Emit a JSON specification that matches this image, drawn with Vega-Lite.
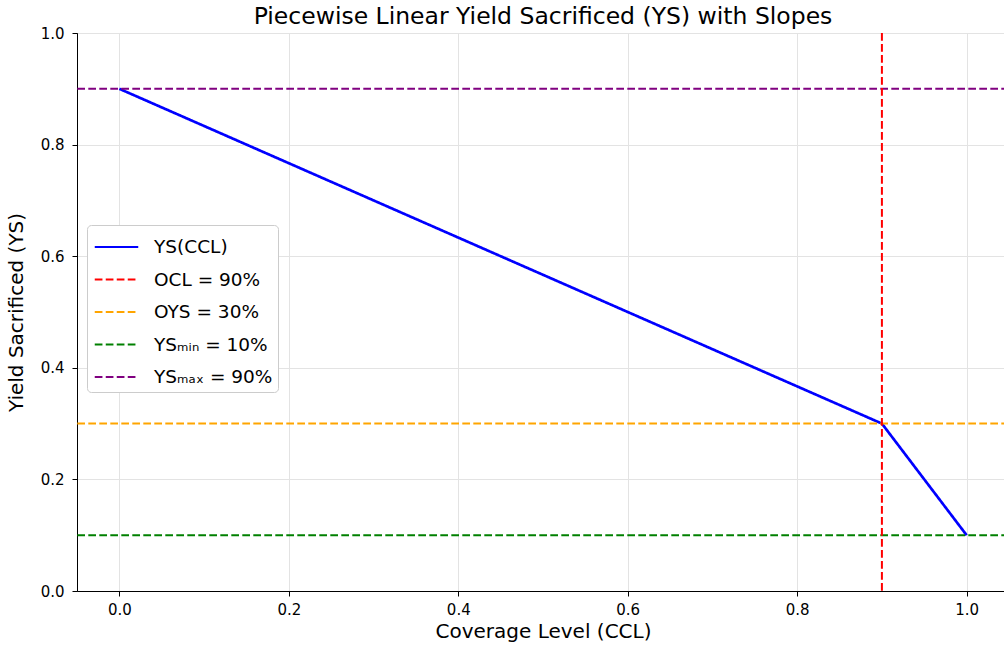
{
  "$schema": "https://vega.github.io/schema/vega-lite/v6.json",
  "autosize": {"type": "none"},
  "padding": {"left": 77, "top": 33, "right": 0, "bottom": 59},
  "width": 932,
  "height": 558,
  "background": "white",
  "config": {
    "font": "DejaVu Sans",
    "view": {"stroke": "#000000", "strokeWidth": 1},
    "axis": {
      "domainColor": "#000000",
      "tickColor": "#000000",
      "tickSize": 5,
      "labelColor": "#000000",
      "titleColor": "#000000",
      "labelFont": "DejaVu Sans",
      "titleFont": "DejaVu Sans",
      "labelFontSize": 15,
      "titleFontSize": 20,
      "titleFontWeight": "normal",
      "gridColor": "#e3e3e3",
      "gridWidth": 1
    }
  },
  "title": {
    "text": "Piecewise Linear Yield Sacrificed (YS) with Slopes",
    "font": "DejaVu Sans",
    "fontSize": 23.5,
    "fontWeight": "normal",
    "color": "#000000",
    "offset": -2
  },
  "datasets": {
    "curve": [
      {"series": "YS(CCL)", "ccl": 0.0, "ys": 0.9},
      {"series": "YS(CCL)", "ccl": 0.9, "ys": 0.3},
      {"series": "YS(CCL)", "ccl": 1.0, "ys": 0.1}
    ],
    "hlines": [
      {"series": "OYS = 30%", "ys": 0.3},
      {"series": "YSₘᵢₙ = 10%", "ys": 0.1},
      {"series": "YSₘₐₓ = 90%", "ys": 0.9}
    ],
    "vlines": [
      {"series": "OCL = 90%", "ccl": 0.9}
    ]
  },
  "layer": [
    {
      "data": {"name": "curve"},
      "mark": {"type": "line", "strokeWidth": 2.7, "clip": true},
      "encoding": {
        "x": {
          "field": "ccl", "type": "quantitative",
          "scale": {"domain": [-0.05, 1.05], "nice": false, "zero": false},
          "axis": {"values": [0, 0.2, 0.4, 0.6, 0.8, 1.0], "format": ".1f", "title": "Coverage Level (CCL)", "labelPadding": 6, "titlePadding": 4}
        },
        "y": {
          "field": "ys", "type": "quantitative",
          "scale": {"domain": [0, 1], "nice": false},
          "axis": {"values": [0, 0.2, 0.4, 0.6, 0.8, 1.0], "format": ".1f", "title": "Yield Sacrificed (YS)", "labelPadding": 8, "titlePadding": 14}
        },
        "color": {
          "field": "series", "type": "nominal",
          "scale": {
            "domain": ["YS(CCL)", "OCL = 90%", "OYS = 30%", "YSₘᵢₙ = 10%", "YSₘₐₓ = 90%"],
            "range": ["#0000ff", "#ff0000", "#ffa500", "#008000", "#800080"]
          },
          "legend": {
            "title": null,
            "orient": "none",
            "legendX": 10,
            "legendY": 192,
            "symbolType": "M-1.45,0H1.45",
            "symbolSize": 900,
            "symbolStrokeWidth": 2.2,
            "labelFontSize": 18.5,
            "labelFont": "DejaVu Sans",
            "labelColor": "#000000",
            "labelOffset": 21,
            "symbolOffset": 7.5,
            "rowPadding": 6.5,
            "padding": 5.5,
            "fillColor": "white",
            "strokeColor": "#cccccc",
            "cornerRadius": 4
          }
        },
        "strokeDash": {
          "field": "series", "type": "nominal",
          "scale": {
            "domain": ["YS(CCL)", "OCL = 90%", "OYS = 30%", "YSₘᵢₙ = 10%", "YSₘₐₓ = 90%"],
            "range": [[1, 0], [7.7, 3.3], [7.7, 3.3], [7.7, 3.3], [7.7, 3.3]]
          },
          "legend": null
        }
      }
    },
    {
      "data": {"name": "hlines"},
      "mark": {"type": "rule", "strokeWidth": 2},
      "encoding": {
        "y": {"field": "ys", "type": "quantitative"},
        "color": {"field": "series", "type": "nominal"},
        "strokeDash": {"field": "series", "type": "nominal"}
      }
    },
    {
      "data": {"name": "vlines"},
      "mark": {"type": "rule", "strokeWidth": 2},
      "encoding": {
        "x": {"field": "ccl", "type": "quantitative"},
        "color": {"field": "series", "type": "nominal"},
        "strokeDash": {"field": "series", "type": "nominal"}
      }
    }
  ]
}
